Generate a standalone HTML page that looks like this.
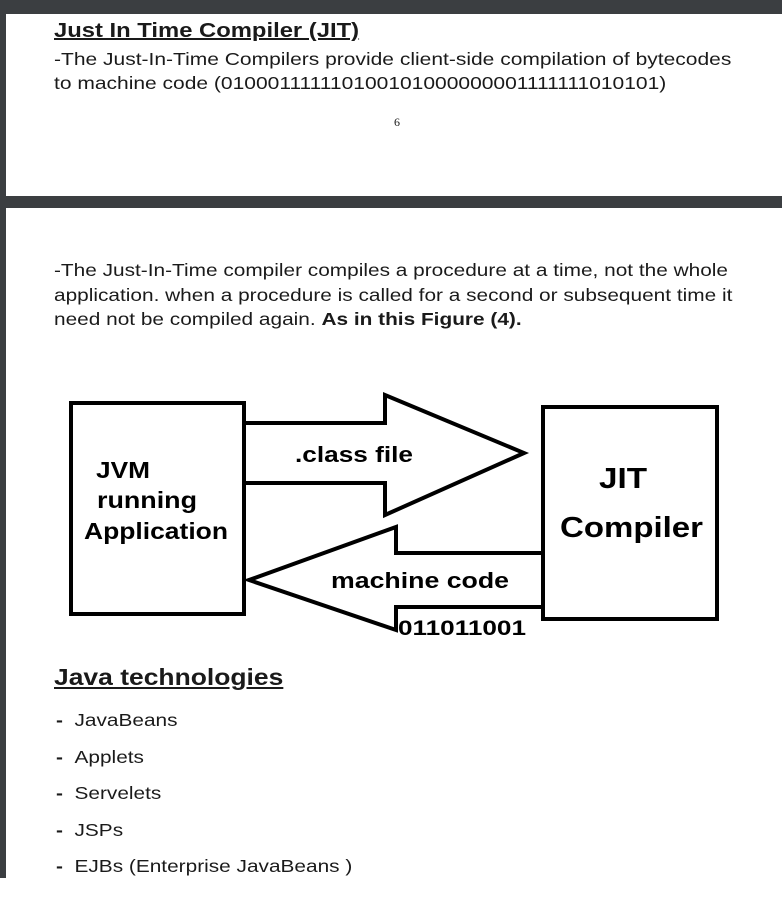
<!DOCTYPE html>
<html><head><style>
body{margin:0;width:782px;height:900px;background:#fff;position:relative;overflow:hidden;font-family:"Liberation Sans",Arial,sans-serif;color:#1a1a1a}
.dark{position:absolute;background:#3b3e41}
.t{position:absolute;white-space:nowrap;transform-origin:0 0}
</style></head><body>
<div class="dark" style="left:0;top:0;width:782px;height:14px"></div>
<div class="dark" style="left:0;top:0;width:6px;height:878px"></div>
<div class="dark" style="left:0;top:196px;width:782px;height:12px"></div>
<div class="t" style="left:54px;top:20px;font-size:20px;font-weight:bold;text-decoration:underline;transform:scaleX(1.19)">Just In Time Compiler (JIT)</div>
<div class="t" style="left:54px;top:47px;font-size:17.5px;line-height:24px;transform:scaleX(1.2)">-The Just-In-Time Compilers provide client-side compilation of bytecodes<br>to machine code (010001111110100101000000001111111010101)</div>
<div class="t" style="left:394px;top:115px;font-size:12px;font-family:'Liberation Serif',serif">6</div>
<div class="t" style="left:54px;top:258px;font-size:17.5px;line-height:24.5px;transform:scaleX(1.19)">-The Just-In-Time compiler compiles a procedure at a time, not the whole<br>application. when a procedure is called for a second or subsequent time it<br>need not be compiled again. <b>As in this Figure (4).</b></div>
<svg style="position:absolute;left:0;top:0" width="782" height="900">
<g fill="#fff" stroke="#000" stroke-width="4" stroke-linejoin="miter">
<rect x="71" y="403" width="173" height="211"/>
<rect x="543" y="407" width="174" height="212"/>
<polygon points="244,423 385,423 385,395 524,453 385,515 385,483 244,483"/>
<polygon points="543,553 396,553 396,527 249,580 396,630 396,607 543,607"/>
</g>
<g font-family="Liberation Sans,Arial,sans-serif" font-weight="bold" fill="#000">
<text x="295" y="462" font-size="22" textLength="118" lengthAdjust="spacingAndGlyphs">.class file</text>
<text x="96" y="478" font-size="23" textLength="54" lengthAdjust="spacingAndGlyphs">JVM</text>
<text x="97" y="508" font-size="23" textLength="100" lengthAdjust="spacingAndGlyphs">running</text>
<text x="84" y="539" font-size="23" textLength="144" lengthAdjust="spacingAndGlyphs">Application</text>
<text x="599" y="488" font-size="29" textLength="48" lengthAdjust="spacingAndGlyphs">JIT</text>
<text x="560" y="537" font-size="29" textLength="143" lengthAdjust="spacingAndGlyphs">Compiler</text>
<text x="331" y="588" font-size="22" textLength="178" lengthAdjust="spacingAndGlyphs">machine code</text>
<text x="398" y="635" font-size="21" textLength="128" lengthAdjust="spacingAndGlyphs">011011001</text>
</g>
</svg>
<div class="t" style="left:54px;top:664px;font-size:23px;font-weight:bold;text-decoration:underline;transform:scaleX(1.15)">Java technologies</div>
<div class="t" style="left:56px;top:702px;font-size:17.5px;line-height:36.5px;transform:scaleX(1.19)"><b>-</b>&nbsp;&nbsp;JavaBeans<br><b>-</b>&nbsp;&nbsp;Applets<br><b>-</b>&nbsp;&nbsp;Servelets<br><b>-</b>&nbsp;&nbsp;JSPs<br><b>-</b>&nbsp;&nbsp;EJBs (Enterprise JavaBeans )</div>
</body></html>
